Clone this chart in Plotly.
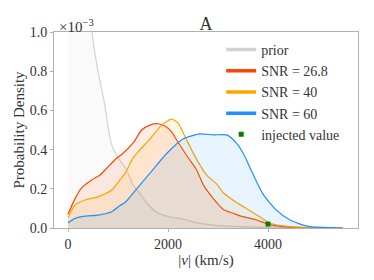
import plotly.graph_objects as go

# velocity grids (km/s) and densities (units of 1e-3)
prior_v = [0, 100, 200, 300, 400, 480, 600, 720, 840, 907, 1040, 1173, 1300, 1440, 1600, 1800, 2040, 2300, 2573, 2900, 3300, 4000, 4700, 5500]
prior_d = [3.0, 2.6, 2.1, 1.7, 1.3, 1.0, 0.8, 0.65, 0.46, 0.40, 0.345, 0.296, 0.22, 0.175, 0.12, 0.075, 0.056, 0.045, 0.026, 0.015, 0.008, 0.003, 0.001, 0.0]

red_v = [0, 140, 273, 473, 640, 740, 973, 1073, 1307, 1473, 1640, 1800, 1940, 2073, 2173, 2373, 2573, 2707, 2907, 3107, 3307, 3440, 3773, 4000, 4300, 4700, 5500]
red_d = [0.07, 0.15, 0.205, 0.245, 0.27, 0.296, 0.356, 0.375, 0.435, 0.50, 0.525, 0.532, 0.52, 0.49, 0.449, 0.37, 0.296, 0.22, 0.15, 0.095, 0.075, 0.062, 0.041, 0.02, 0.007, 0.002, 0.0]

orange_v = [0, 140, 340, 607, 873, 1040, 1140, 1307, 1407, 1640, 1873, 2073, 2207, 2373, 2573, 2773, 2973, 3107, 3373, 3773, 4040, 4440, 4900, 5500]
orange_d = [0.054, 0.117, 0.143, 0.16, 0.194, 0.245, 0.279, 0.36, 0.39, 0.455, 0.525, 0.555, 0.534, 0.449, 0.35, 0.27, 0.225, 0.18, 0.13, 0.068, 0.024, 0.007, 0.002, 0.0]

blue_v = [0, 140, 340, 607, 873, 1040, 1140, 1373, 1640, 1973, 2307, 2640, 2907, 3173, 3373, 3507, 3707, 3907, 4173, 4440, 4773, 5100, 5500]
blue_d = [0.027, 0.049, 0.061, 0.066, 0.083, 0.115, 0.13, 0.2, 0.28, 0.38, 0.455, 0.48, 0.475, 0.475, 0.432, 0.38, 0.27, 0.17, 0.09, 0.041, 0.01, 0.003, 0.0]

injected_v = [4000]
injected_d = [0.02]

labels = ["prior", "SNR = 26.8", "SNR = 40", "SNR = 60", "injected value"]

FONT = "Liberation Serif"
fig = go.Figure()

series = [
    (prior_v, prior_d, "#d3d3d3", "rgba(211,211,211,0.12)"),
    (red_v, red_d, "#ff4500", "rgba(255,69,0,0.1)"),
    (orange_v, orange_d, "#ffa500", "rgba(255,165,0,0.1)"),
    (blue_v, blue_d, "#1e90ff", "rgba(30,144,255,0.1)"),
]
for (v, d, c, fc) in series:
    fig.add_trace(go.Scatter(x=v, y=d, mode="lines", line=dict(color=c, width=1.2, shape="spline", smoothing=0.6),
                             fill="tozeroy", fillcolor=fc, showlegend=False, hoverinfo="skip"))

fig.add_trace(go.Scatter(x=injected_v, y=injected_d, mode="markers",
                         marker=dict(symbol="square", size=5, color="#008000"), showlegend=False))

# legend entries
for lab, c in zip(labels[:4], ["#d3d3d3", "#ff4500", "#ffa500", "#1e90ff"]):
    fig.add_trace(go.Scatter(x=[None], y=[None], mode="lines", line=dict(color=c, width=3.5), name=lab))
fig.add_trace(go.Scatter(x=[None], y=[None], mode="markers", marker=dict(symbol="square", size=5, color="#008000"), name=labels[4]))

axis_common = dict(showline=True, linecolor="#b0b0b0", linewidth=1, mirror=True, ticks="outside",
                   tickcolor="#b0b0b0", ticklen=3, showgrid=False, zeroline=False, automargin=True,
                   tickfont=dict(family=FONT, size=14, color="#333"))

fig.update_layout(
    width=366, height=272,
    margin=dict(l=46, r=16, t=24, b=52, autoexpand=False),
    paper_bgcolor="white", plot_bgcolor="white",
    title=dict(text="A", x=0.5, xref="paper", xanchor="center", y=1, yref="paper", yanchor="bottom", pad=dict(b=2),
               font=dict(family=FONT, size=18, color="#333")),
    xaxis=dict(range=[-280, 5800], tickvals=[0, 2000, 4000],
               title=dict(text="|<i>v</i>| (km/s)", font=dict(family=FONT, size=15, color="#333"), standoff=3),
               **axis_common),
    yaxis=dict(range=[0, 1.0], tickvals=[0, 0.2, 0.4, 0.6, 0.8, 1.0], tickformat=".1f",
               title=dict(text="Probability Density", font=dict(family=FONT, size=15, color="#333"), standoff=1),
               **axis_common),
    legend=dict(x=0.55, y=0.99, xanchor="left", yanchor="top", bgcolor="rgba(0,0,0,0)",
                font=dict(family=FONT, size=14, color="#333"), itemwidth=30, tracegroupgap=0),
    annotations=[dict(text="×10<sup>−3</sup>", xref="paper", yref="paper", x=0.01, y=1, xanchor="left", yanchor="bottom",
                      showarrow=False, font=dict(family=FONT, size=15, color="#333"), yshift=-5)],
)

fig.write_html("out.html")
